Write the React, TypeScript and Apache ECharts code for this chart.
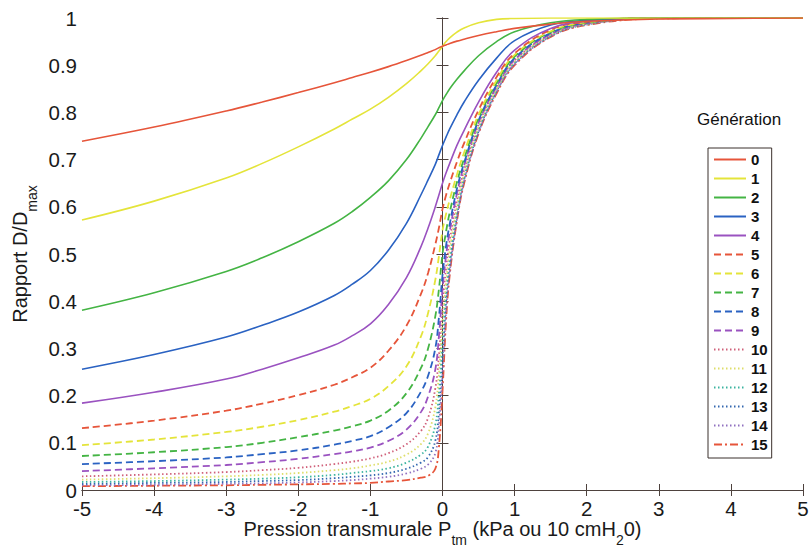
import React, { useEffect, useRef } from 'react';
import * as echarts from 'echarts';

const pressures = [-5, -4, -3, -2.5, -2, -1.5, -1.25, -1, -0.75, -0.5, -0.3, -0.2, -0.1, -0.05, 0, 0.05, 0.1, 0.2, 0.3, 0.5, 0.75, 1, 1.5, 2, 3, 4, 5];

const gen0 = [0.739, 0.769, 0.803, 0.822, 0.842, 0.863, 0.874, 0.885, 0.897, 0.91, 0.921, 0.927, 0.933, 0.937, 0.94, 0.943, 0.946, 0.951, 0.955, 0.963, 0.971, 0.978, 0.987, 0.993, 0.998, 0.999, 1];
const gen1 = [0.572, 0.612, 0.661, 0.692, 0.727, 0.765, 0.786, 0.807, 0.832, 0.861, 0.888, 0.903, 0.92, 0.93, 0.94, 0.95, 0.958, 0.97, 0.979, 0.99, 0.997, 0.999, 1, 1, 1, 1, 1];
const gen2 = [0.381, 0.418, 0.463, 0.492, 0.526, 0.565, 0.59, 0.62, 0.655, 0.7, 0.745, 0.77, 0.795, 0.81, 0.825, 0.838, 0.85, 0.87, 0.888, 0.92, 0.95, 0.971, 0.99, 0.997, 1, 1, 1];
const gen3 = [0.256, 0.287, 0.324, 0.349, 0.377, 0.412, 0.436, 0.465, 0.508, 0.565, 0.625, 0.657, 0.69, 0.71, 0.73, 0.748, 0.765, 0.795, 0.822, 0.868, 0.915, 0.952, 0.985, 0.995, 1, 1, 1];
const gen4 = [0.184, 0.207, 0.235, 0.256, 0.28, 0.307, 0.327, 0.352, 0.393, 0.45, 0.515, 0.555, 0.6, 0.625, 0.65, 0.672, 0.692, 0.73, 0.762, 0.822, 0.885, 0.932, 0.978, 0.993, 1, 1, 1];
const gen5 = [0.131, 0.147, 0.168, 0.183, 0.201, 0.223, 0.239, 0.259, 0.295, 0.348, 0.415, 0.46, 0.52, 0.555, 0.595, 0.625, 0.65, 0.695, 0.735, 0.805, 0.875, 0.925, 0.975, 0.992, 1, 1, 1];
const gen6 = [0.095, 0.107, 0.123, 0.134, 0.148, 0.166, 0.178, 0.193, 0.22, 0.262, 0.325, 0.375, 0.445, 0.495, 0.55, 0.585, 0.615, 0.668, 0.715, 0.795, 0.868, 0.922, 0.972, 0.991, 1, 1, 1];
const gen7 = [0.072, 0.08, 0.091, 0.1, 0.112, 0.126, 0.135, 0.147, 0.168, 0.205, 0.258, 0.3, 0.368, 0.425, 0.5, 0.548, 0.588, 0.652, 0.702, 0.788, 0.862, 0.918, 0.97, 0.99, 1, 1, 1];
const gen8 = [0.055, 0.061, 0.069, 0.076, 0.084, 0.096, 0.104, 0.114, 0.133, 0.163, 0.208, 0.242, 0.3, 0.365, 0.455, 0.518, 0.563, 0.638, 0.693, 0.783, 0.858, 0.915, 0.968, 0.99, 1, 1, 1];
const gen9 = [0.04, 0.046, 0.053, 0.059, 0.066, 0.076, 0.082, 0.09, 0.104, 0.128, 0.165, 0.198, 0.255, 0.325, 0.425, 0.497, 0.548, 0.628, 0.688, 0.779, 0.855, 0.912, 0.966, 0.989, 1, 1, 1];
const gen10 = [0.029, 0.033, 0.038, 0.042, 0.047, 0.055, 0.06, 0.067, 0.078, 0.097, 0.125, 0.153, 0.215, 0.285, 0.39, 0.47, 0.528, 0.613, 0.678, 0.774, 0.852, 0.91, 0.965, 0.988, 1, 1, 1];
const gen11 = [0.022, 0.025, 0.029, 0.032, 0.036, 0.042, 0.046, 0.052, 0.06, 0.075, 0.097, 0.12, 0.175, 0.245, 0.355, 0.44, 0.508, 0.6, 0.67, 0.77, 0.85, 0.908, 0.964, 0.988, 1, 1, 1];
const gen12 = [0.017, 0.019, 0.022, 0.024, 0.027, 0.032, 0.036, 0.04, 0.046, 0.058, 0.075, 0.092, 0.138, 0.205, 0.32, 0.42, 0.49, 0.59, 0.664, 0.765, 0.847, 0.906, 0.963, 0.987, 1, 1, 1];
const gen13 = [0.013, 0.015, 0.017, 0.019, 0.021, 0.025, 0.028, 0.031, 0.036, 0.045, 0.058, 0.07, 0.104, 0.165, 0.28, 0.4, 0.475, 0.58, 0.658, 0.76, 0.845, 0.904, 0.962, 0.987, 1, 1, 1];
const gen14 = [0.01, 0.011, 0.013, 0.014, 0.016, 0.019, 0.021, 0.024, 0.028, 0.035, 0.045, 0.054, 0.078, 0.135, 0.245, 0.38, 0.463, 0.573, 0.654, 0.757, 0.843, 0.902, 0.961, 0.986, 1, 1, 1];
const gen15 = [0.008, 0.009, 0.01, 0.011, 0.012, 0.013, 0.014, 0.015, 0.018, 0.021, 0.026, 0.03, 0.045, 0.09, 0.21, 0.36, 0.455, 0.57, 0.65, 0.755, 0.84, 0.9, 0.96, 0.985, 0.999, 1, 1];

const generationNames = ['0', '1', '2', '3', '4', '5', '6', '7', '8', '9', '10', '11', '12', '13', '14', '15'];
const generationValues = [gen0, gen1, gen2, gen3, gen4, gen5, gen6, gen7, gen8, gen9, gen10, gen11, gen12, gen13, gen14, gen15];

const RED = '#e6553a';
const YELLOW = '#e4e43a';
const GREEN = '#44b444';
const BLUE = '#2a62c2';
const PURPLE = '#9a52c0';
const colors = [RED, YELLOW, GREEN, BLUE, PURPLE, RED, YELLOW, GREEN, BLUE, PURPLE, '#d0607a', '#dede6a', '#3cb4a0', '#3468b0', '#9070c0', RED];
const dashes: any[] = [
  'solid', 'solid', 'solid', 'solid', 'solid',
  [7, 4], [7, 4], [7, 4], [7, 4], [7, 4],
  [1.5, 2.5], [1.5, 2.5], [1.5, 2.5], [1.5, 2.5], [1.5, 2.5],
  [8, 3, 2, 3],
];

const FONT = '"Liberation Sans", Arial, Helvetica, sans-serif';
const AXIS_COLOR = '#4e423e';
const TEXT_COLOR = '#1a1a1a';

export default function App() {
  const ref = useRef<HTMLDivElement>(null);
  useEffect(() => {
    if (!ref.current) return;
    const chart = echarts.init(ref.current, null, { renderer: 'svg' });
    const series = generationValues.map((vals, i) => ({
      name: generationNames[i],
      type: 'line',
      xAxisIndex: 0,
      yAxisIndex: 0,
      data: pressures.map((p, k) => [p, vals[k]]),
      symbol: 'none',
      smooth: 0.4,
      lineStyle: { color: colors[i], width: i >= 5 ? 1.8 : 1.6, type: dashes[i] },
      itemStyle: { color: colors[i] },
      z: 20 - i,
    }));
    const axisCommon = {
      type: 'value',
      axisLine: { show: true, lineStyle: { color: AXIS_COLOR, width: 1 } },
      axisTick: { show: true, inside: true, length: 6, lineStyle: { color: AXIS_COLOR } },
      splitLine: { show: false },
    };
    const subRich = { sub: { fontSize: 14, lineHeight: 14, verticalAlign: 'bottom', fontFamily: FONT, color: TEXT_COLOR } };
    chart.setOption({
      animation: false,
      backgroundColor: '#ffffff',
      textStyle: { fontFamily: FONT },
      grid: { left: 82, right: 7, top: 18, bottom: 57, containLabel: false, outerBoundsMode: 'none' },
      xAxis: [
        {
          ...axisCommon,
          position: 'bottom',
          min: -5,
          max: 5,
          interval: 1,
          axisLabel: { fontSize: 20.5, color: TEXT_COLOR, margin: 8, fontFamily: FONT, showMinLabel: true, showMaxLabel: true },
          name: 'Pression transmurale P{sub|tm} (kPa ou 10 cmH{sub|2}0)',
          nameLocation: 'middle',
          nameGap: 21,
          nameMoveOverlap: false,
          nameTextStyle: {
            fontSize: 20,
            color: TEXT_COLOR,
            fontFamily: FONT,
            lineHeight: 36,
            rich: subRich,
          },
        },
        {
          ...axisCommon,
          position: 'top',
          min: -5,
          max: 5,
          interval: 1,
          axisLabel: { show: false },
        },
      ],
      yAxis: [
        {
          ...axisCommon,
          position: 'left',
          min: 0,
          max: 1,
          interval: 0.1,
          axisLabel: { fontSize: 20.5, color: TEXT_COLOR, margin: 5, fontFamily: FONT },
          name: 'Rapport D/D{sub|max}',
          nameLocation: 'middle',
          nameRotate: 90,
          nameGap: 43,
          nameMoveOverlap: false,
          nameTextStyle: {
            fontSize: 20,
            color: TEXT_COLOR,
            fontFamily: FONT,
            lineHeight: 38,
            rich: subRich,
          },
        },
        {
          ...axisCommon,
          position: 'right',
          min: 0,
          max: 1,
          interval: 0.1,
          axisLabel: { show: false },
        },
      ],
      legend: {
        data: generationNames,
        orient: 'vertical',
        left: 708,
        top: 148,
        padding: [4, 4, 6, 5],
        itemWidth: 32,
        itemHeight: 14,
        itemGap: 4,
        borderColor: '#3a302c',
        borderWidth: 1,
        backgroundColor: '#ffffff',
        itemStyle: { opacity: 0 },
        textStyle: { fontSize: 15, lineHeight: 14, fontWeight: 'bold', color: '#111', fontFamily: FONT },
      },
      graphic: [
        {
          type: 'text',
          left: 697,
          top: 111,
          style: { text: 'Génération', fontSize: 17, fill: '#111', fontFamily: FONT },
          z: 100,
        },
      ],
      series,
    });
    return () => chart.dispose();
  }, []);
  return <div ref={ref} style={{ position: 'fixed', left: 0, top: 0, width: 810, height: 547 }} />;
}
